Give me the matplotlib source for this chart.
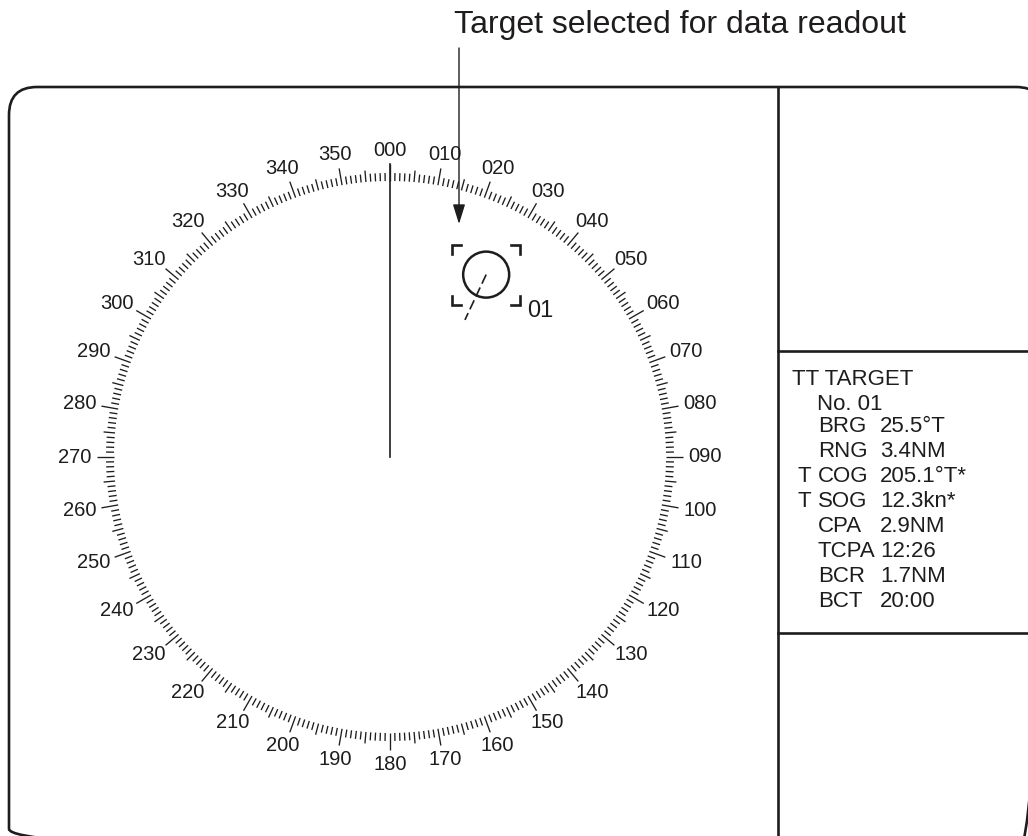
import numpy as np
import matplotlib
matplotlib.use('Agg')
import matplotlib.pyplot as plt
from matplotlib.patches import FancyBboxPatch, Circle
from matplotlib.collections import LineCollection

plt.rcParams['font.family'] = ['Liberation Sans', 'DejaVu Sans']
ink = '#1f1c1d'

# ---- data ----
ring_labels = ['%03d' % b for b in range(0, 360, 10)]
ring_bearings = list(range(0, 360, 10))

target_no = '01'
echo_brg = 27.8         # deg, where the echo is drawn on screen
echo_rng = 3.38         # NM, as drawn
target_cog = 205.1      # deg T, drawn as the dashed vector

panel_title = 'TT TARGET'
panel_sub = 'No. 01'
panel_prefix = ['', '', 'T', 'T', '', '', '', '']
panel_names = ['BRG', 'RNG', 'COG', 'SOG', 'CPA', 'TCPA', 'BCR', 'BCT']
panel_values = ['25.5°T', '3.4NM', '205.1°T*', '12.3kn*', '2.9NM', '12:26', '1.7NM', '20:00']

callout = 'Target selected for data readout'

# ---- layout (pixels) ----
W, H = 1028, 836
cx, cy = 390, 457
r_in = 276
px_per_nm = 61.0

fig = plt.figure(figsize=(W / 100, H / 100), dpi=100)
ax = fig.add_axes([0, 0, 1, 1])
ax.set_xlim(0, W)
ax.set_ylim(H, 0)
ax.axis('off')


def polar(brg, r):
    t = np.radians(brg)
    return cx + r * np.sin(t), cy - r * np.cos(t)


# outer frame and panel dividers
frame = FancyBboxPatch((9, 87), 1035, 770, boxstyle='round,pad=0,rounding_size=28',
                       fill=False, ec=ink, lw=1.9)
ax.add_patch(frame)
ax.plot([778, 778], [87, H + 5], color=ink, lw=1.9)
ax.plot([778, W + 5], [351, 351], color=ink, lw=1.9)
ax.plot([778, W + 5], [633, 633], color=ink, lw=1.9)

# bearing scale
segs = []
for d in range(360):
    ln = 17 if d % 10 == 0 else (11.5 if d % 5 == 0 else 8)
    segs.append([polar(d, r_in), polar(d, r_in + ln)])
ax.add_collection(LineCollection(segs, colors=ink, linewidths=0.95))

for b, lab in zip(ring_bearings, ring_labels):
    t = np.radians(b)
    ax_, ay_ = polar(b, r_in + 22)
    tx = ax_ + 17 * np.sin(t)
    ty = ay_ - 9 * np.cos(t)
    ax.text(tx, ty, lab, ha='center', va='center', fontsize=14.5, color=ink)

# heading line
hx, hy = polar(0, r_in + 17)
ax.plot([cx, hx], [cy, hy], color=ink, lw=1.2)

# target symbol
tx, ty = polar(echo_brg, echo_rng * px_per_nm)
ax.add_patch(Circle((tx, ty), 23, fill=False, ec=ink, lw=1.8))
hw, hh, arm = 34, 30, 9
for sx in (-1, 1):
    for sy in (-1, 1):
        x0, y0 = tx + sx * hw, ty + sy * hh
        ax.plot([x0 - sx * arm, x0, x0], [y0, y0, y0 - sy * arm], color=ink, lw=1.9,
                solid_joinstyle='miter')
t = np.radians(target_cog)
ax.plot([tx, tx + 50 * np.sin(t)], [ty, ty - 50 * np.cos(t)], color=ink, lw=1.2,
        linestyle=(0, (6, 2.5)))
ax.text(tx + 41, ty + 42, target_no, ha='left', va='baseline', fontsize=17, color=ink)

# callout
ax.text(680, 33, callout, ha='center', va='baseline', fontsize=23, color=ink)
ax.annotate('', xy=(459, 224), xytext=(459, 48),
            arrowprops=dict(arrowstyle='-|>,head_length=0.8,head_width=0.25',
                            mutation_scale=15, lw=1.0, color=ink, shrinkA=0, shrinkB=0))

# data readout panel
fs = 16
ax.text(792, 385, panel_title, ha='left', va='baseline', fontsize=fs, color=ink)
ax.text(817, 410, panel_sub, ha='left', va='baseline', fontsize=fs, color=ink)
for i, (p, n_, v) in enumerate(zip(panel_prefix, panel_names, panel_values)):
    y = 432 + 25 * i
    if p:
        ax.text(797, y, p, ha='left', va='baseline', fontsize=fs, color=ink)
    ax.text(818, y, n_, ha='left', va='baseline', fontsize=fs, color=ink)
    ax.text(880, y, v, ha='left', va='baseline', fontsize=fs, color=ink)

fig.savefig('out.png', dpi=100)
